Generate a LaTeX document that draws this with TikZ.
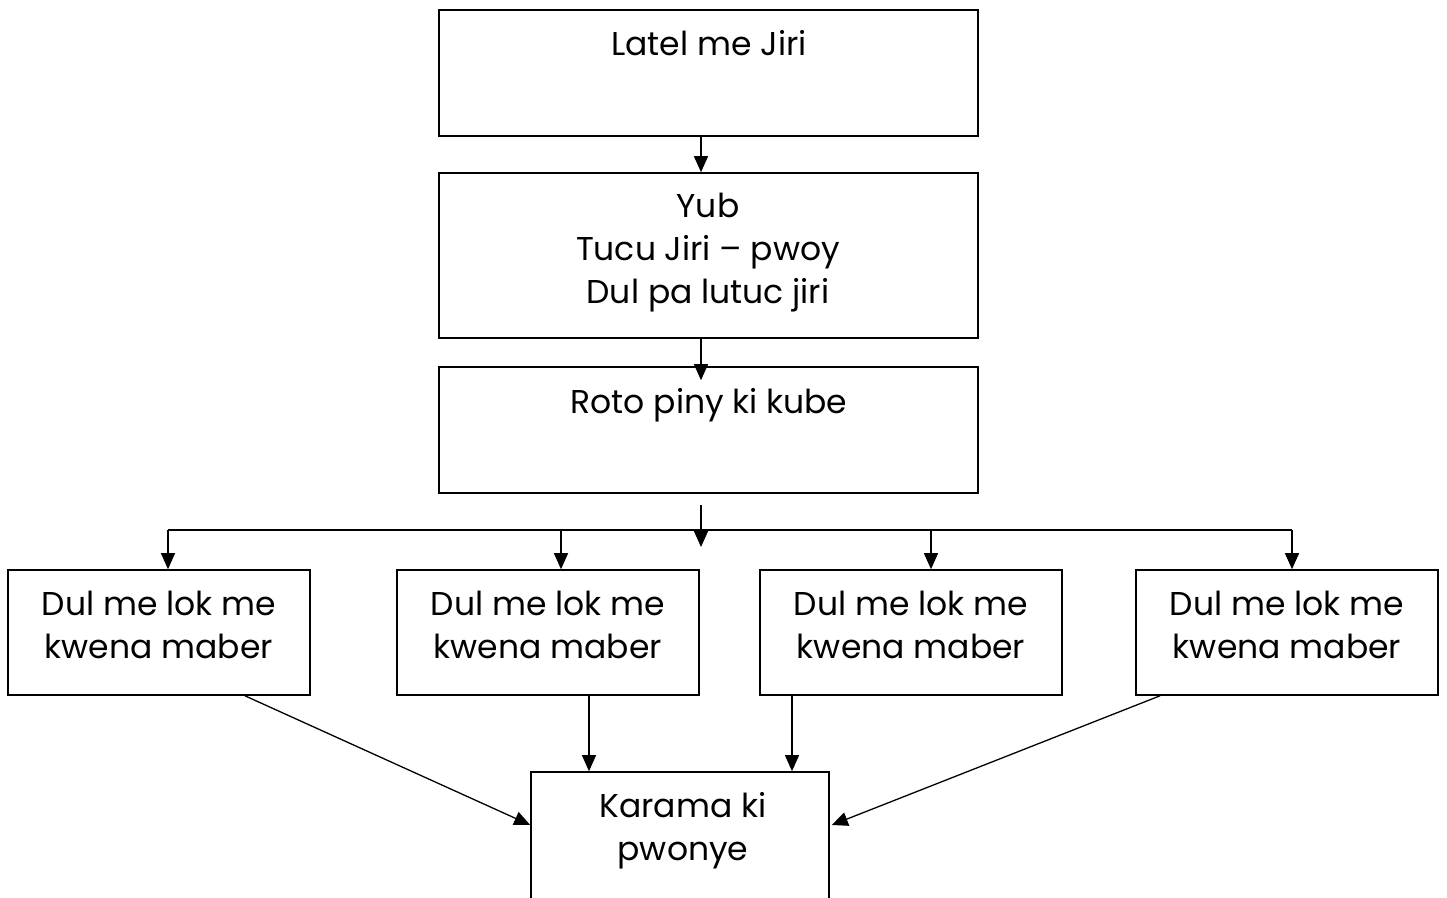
\documentclass[tikz,border=0pt]{standalone}
\usepackage{fontspec}
\setmainfont{Poppins}
\usetikzlibrary{arrows.meta,calc}
\tikzset{
  box/.style={draw, line width=1.6pt, rectangle, inner sep=0pt},
  txt/.style={anchor=base, inner sep=0pt, font=\fontsize{33}{43}\selectfont},
  conn/.style={line width=1.3pt},
  arr/.style={conn, -{Triangle[length=16pt,width=14pt]}}
}
\begin{document}
\begin{tikzpicture}[x=1pt,y=-1pt]
\useasboundingbox (0,0) rectangle (1447,897);
% boxes
\node[box, minimum width=539pt, minimum height=126pt] (b1) at (708.5,73) {};
\node[box, minimum width=539pt, minimum height=165pt] (b2) at (708.5,255.5) {};
\node[box, minimum width=539pt, minimum height=126pt] (b3) at (708.5,430) {};
\node[box, minimum width=302pt, minimum height=125pt] (d1) at (159,632.5) {};
\node[box, minimum width=302pt, minimum height=125pt] (d2) at (548,632.5) {};
\node[box, minimum width=302pt, minimum height=125pt] (d3) at (911,632.5) {};
\node[box, minimum width=302pt, minimum height=125pt] (d4) at (1287,632.5) {};
\node[box, minimum width=298pt, minimum height=140pt] (k) at (680,842) {};
% texts
\node[txt] (t1) at (709,55) {Latel me Jiri};
\node[txt] (t2a) at (708,217) {Yub};
\node[txt] (t2b) at (708,260) {Tucu Jiri – pwoy};
\node[txt] (t2c) at (708,303) {Dul pa lutuc jiri};
\node[txt] (t3) at (709,413) {Roto piny ki kube};
\foreach \n/\x in {1/159,2/548,3/911,4/1287}{
  \node[txt] (d\n a) at (\x,615) {Dul me lok me};
  \node[txt] (d\n b) at (\x,658) {kwena maber};
}
\node[txt] (ka) at (683,817) {Karama ki};
\node[txt] (kb) at (683,860) {pwonye};
% connectors
\coordinate (s3) at (701,505);
\coordinate (e3) at (701,547);
\coordinate (hl) at (168,530);
\coordinate (hr) at (1292,530);
\draw[arr] (b1.south -| s3) -- (b2.north -| s3);
\draw[arr] (b2.south -| s3) -- ($(b3.north -| s3)+(0,14)$);
\draw[arr] (s3) -- (e3);
\draw[conn] (hl) -- (hr);
\draw[arr] (hl) -- (d1.north -| hl);
\draw[arr] (561,530) -- (d2.north -| 561,0);
\draw[arr] (931,530) -- (d3.north -| 931,0);
\draw[arr] (hr) -- (d4.north -| hr);
\draw[arr] (d1.south -| 245,0) -- (k.west |- 0,825);
\draw[arr] (d2.south -| 589,0) -- (k.north -| 589,0);
\draw[arr] (d3.south -| 792,0) -- (k.north -| 792,0);
\draw[arr] (d4.south -| 1160,0) -- ($(k.east |- 0,825)+(2,0)$);
\end{tikzpicture}
\end{document}
